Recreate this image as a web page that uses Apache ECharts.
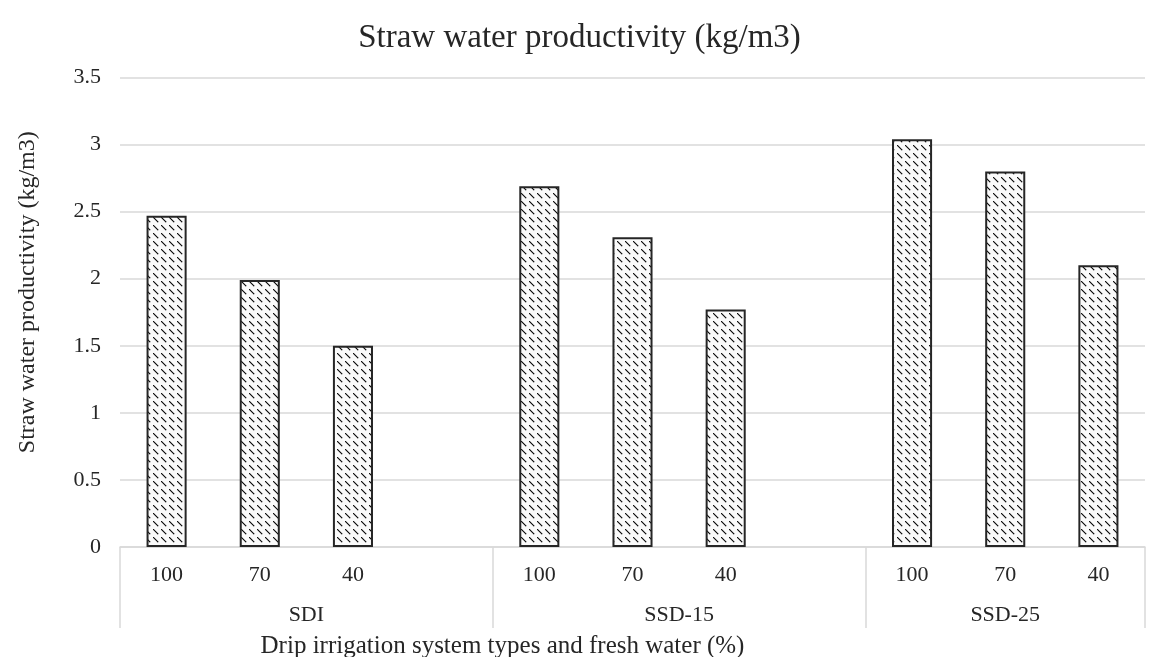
<!DOCTYPE html>
<html>
<head>
<meta charset="utf-8">
<script src="https://cdn.jsdelivr.net/npm/echarts@6/dist/echarts.min.js"></script>
<style>
  html, body { margin: 0; padding: 0; background: #fff; }
  #chart { width: 1159px; height: 657px; }
</style>
</head>
<body>
<div id="chart"></div>
<script>
// data
const groups = ["SDI", "SSD-15", "SSD-25"];
const levels = ["100", "70", "40"];
const sdiValues = [2.47, 1.99, 1.5];
const ssd15Values = [2.69, 2.31, 1.77];
const ssd25Values = [3.04, 2.8, 2.1];
const yTicks = [0, 0.5, 1, 1.5, 2, 2.5, 3, 3.5];

// excel-style layout: one blank slot between groups
const groupValues = [sdiValues, ssd15Values, ssd25Values];
const categories = [];
const barData = [];
const groupCenters = [];
const groupEdges = [0];
groupValues.forEach(function (vals, g) {
    const start = categories.length;
    levels.forEach(function (lv, i) {
        categories.push(lv);
        barData.push(vals[i]);
    });
    if (g < groupValues.length - 1) {
        categories.push("");
        barData.push(null);
    }
    groupEdges.push(categories.length);
    groupCenters.push((start + categories.length) / 2);
});

// hatch pattern like the excel dashed diagonal fill
function makeHatch() {
    const c = document.createElement("canvas");
    c.width = 8;
    c.height = 8;
    const ctx = c.getContext("2d");
    ctx.fillStyle = "#fafafa";
    ctx.fillRect(0, 0, 8, 8);
    ctx.fillStyle = "#111";
    for (let k = 0; k < 5; k++) {
        ctx.fillRect(1 + k, 1 + k, 1.3, 1.3);
    }
    return c;
}

const font = "'Liberation Serif', 'Times New Roman', serif";
const chart = echarts.init(document.getElementById("chart"));

chart.setOption({
    animation: false,
    backgroundColor: "#fff",
    title: {
        text: "Straw water productivity (kg/m3)",
        left: "center",
        top: 17,
        textStyle: {
            fontFamily: font,
            fontSize: 33,
            fontWeight: "normal",
            color: "#262626",
        },
    },
    grid: {
        left: 120,
        right: 14,
        top: 77.5,
        bottom: 110,
        containLabel: false,
        outerBoundsMode: "none",
    },
    xAxis: [
        {
            type: "category",
            data: categories,
            axisLine: { lineStyle: { color: "#d9d9d9", width: 1.5 } },
            axisTick: { show: false },
            axisLabel: {
                interval: 0,
                margin: 17,
                fontFamily: font,
                fontSize: 22,
                color: "#262626",
            },
            name: "Drip irrigation system types and fresh water (%)",
            nameLocation: "middle",
            nameGap: 87,
            nameTextStyle: {
                fontFamily: font,
                fontSize: 25,
                color: "#262626",
                padding: [0, 260, 0, 0],
            },
        },
        {
            type: "value",
            min: 0,
            max: categories.length,
            position: "bottom",
            axisLine: { show: false },
            splitLine: { show: false },
            axisTick: {
                show: true,
                inside: false,
                length: 81,
                customValues: groupEdges,
                lineStyle: { color: "#d9d9d9", width: 1.5 },
            },
            axisLabel: {
                customValues: groupCenters,
                margin: 57,
                fontFamily: font,
                fontSize: 22,
                color: "#262626",
                formatter: function (v) {
                    const idx = groupCenters.indexOf(v);
                    return idx >= 0 ? groups[idx] : "";
                },
            },
        },
    ],
    yAxis: {
        type: "value",
        min: yTicks[0],
        max: yTicks[yTicks.length - 1],
        interval: 0.5,
        axisLine: { show: false },
        axisTick: { show: false },
        splitLine: { lineStyle: { color: "#d9d9d9", width: 1.5 } },
        axisLabel: {
            margin: 19,
            fontFamily: font,
            fontSize: 22,
            color: "#262626",
        },
        name: "Straw water productivity (kg/m3)",
        nameLocation: "middle",
        nameGap: 80,
        nameTextStyle: {
            fontFamily: font,
            fontSize: 24,
            color: "#262626",
            padding: [0, 0, 0, 40],
        },
    },
    series: [
        {
            type: "bar",
            data: barData,
            barWidth: "43%",
            itemStyle: {
                color: { image: makeHatch(), repeat: "repeat" },
                borderColor: "#262626",
                borderWidth: 2,
            },
        },
    ],
});
</script>
</body>
</html>
